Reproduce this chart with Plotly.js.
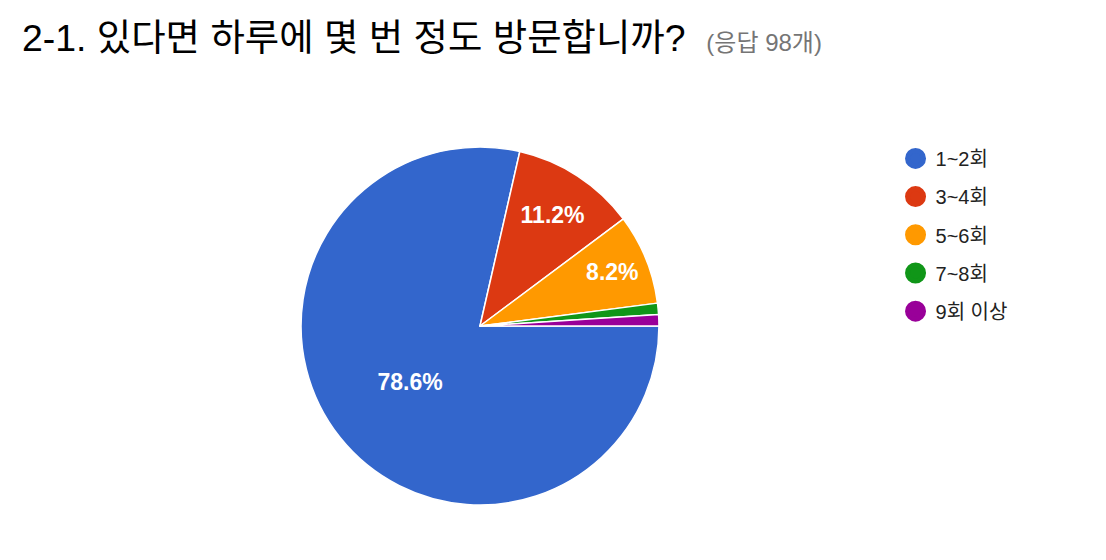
<!DOCTYPE html>
<html>
<head>
<meta charset="utf-8">
<script src="https://cdn.plot.ly/plotly-3.0.1.min.js"></script>
<style>html,body{margin:0;padding:0;background:#fff;}#chart{width:1106px;height:560px;}</style>
</head>
<body>
<div id="chart"></div>
<script>
const categories = ["1~2회", "3~4회", "5~6회", "7~8회", "9회 이상"];
const counts = [77, 11, 8, 1, 1];
const percentLabels = ["78.6%", "11.2%", "8.2%", "", ""];
const colors = ["#3366CC", "#DC3912", "#FF9900", "#109618", "#990099"];
const titleText = "2-1. 있다면 하루에 몇 번 정도 방문합니까?";
const subtitleText = "(응답 98개)";

const FONT = "Liberation Sans, Arial, Noto Sans CJK KR, sans-serif";

const pie = {
  type: "pie",
  labels: categories,
  values: counts,
  text: percentLabels,
  textinfo: "text",
  textposition: "inside",
  insidetextorientation: "horizontal",
  insidetextfont: {family: FONT, size: 23, color: "#ffffff", weight: "bold"},
  marker: {colors: colors, line: {color: "#ffffff", width: 1.5}},
  sort: false,
  direction: "clockwise",
  rotation: 90,
  showlegend: false,
  hoverinfo: "label+value+percent",
  domain: {x: [0.2722, 0.5958], y: [0.0982, 0.7375]}
};

const legendTraces = categories.map((c, i) => ({
  type: "scatter",
  mode: "markers",
  x: [null], y: [null],
  name: c,
  legendgroup: "g" + i,
  marker: {color: colors[i], size: 16, symbol: "circle", line: {color: colors[i], width: 5}},
  hoverinfo: "skip",
  showlegend: true
}));

const layout = {
  width: 1106, height: 560,
  margin: {l: 0, r: 0, t: 0, b: 0},
  paper_bgcolor: "#ffffff",
  plot_bgcolor: "#ffffff",
  font: {family: FONT, color: "#222222"},
  title: {
    text: titleText + "  <span style='font-size:24px;color:#757575'>" + subtitleText + "</span>",
    font: {family: FONT, size: 37.4, color: "#000000"},
    x: 22/1106, xanchor: "left", xref: "container",
    y: 1 - 38/560, yanchor: "middle", yref: "container"
  },
  xaxis: {visible: false},
  yaxis: {visible: false},
  showlegend: true,
  legend: {
    x: 0.8097, xanchor: "left",
    y: 0.752, yanchor: "top",
    traceorder: "grouped",
    tracegroupgap: 9.2,
    font: {family: FONT, size: 20, color: "#222222"},
    bgcolor: "rgba(0,0,0,0)",
    itemclick: false, itemdoubleclick: false
  }
};

Plotly.newPlot("chart", [pie].concat(legendTraces), layout, {displayModeBar: false, staticPlot: true});
</script>
</body>
</html>
